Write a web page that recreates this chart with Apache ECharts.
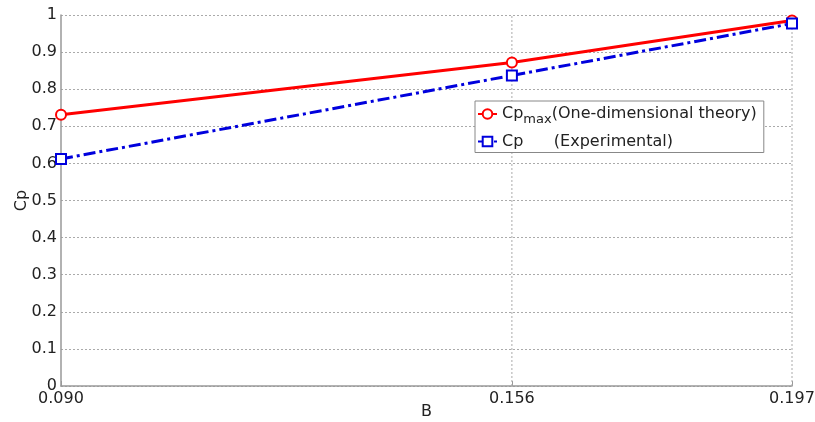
<!DOCTYPE html>
<html><head><meta charset="utf-8">
<script src="https://cdn.jsdelivr.net/npm/echarts@6/dist/echarts.min.js"></script>
<style>html,body{margin:0;padding:0;background:#fff}#c{width:815px;height:422px}</style>
</head><body><div id="c"></div>
<script>
const bValues = [0.090, 0.156, 0.197];
const xTickLabels = ['0.090', '0.156', '0.197'];
const cpMax = [0.731, 0.872, 0.985];
const cpExp = [0.612, 0.837, 0.977];
const xGridLines = [0.156, 0.197];

const font = 'DejaVu Sans, Verdana, sans-serif';
const gridData = [];
xGridLines.forEach(x => { gridData.push([x, 0], [x, 1], '-'); });

const chart = echarts.init(document.getElementById('c'));
chart.setOption({
  animation: false,
  backgroundColor: '#fff',
  grid: {left: 61, right: 23, top: 15, bottom: 36, containLabel: false, outerBoundsMode: 'none'},
  xAxis: {
    type: 'value', min: 0.09, max: 0.197,
    name: 'B', nameLocation: 'middle', nameGap: 18, nameMoveOverlap: false,
    nameTextStyle: {fontFamily: font, fontSize: 16, color: '#222'},
    axisLine: {show: true, lineStyle: {color: '#999', width: 1.5}},
    axisTick: {show: true, customValues: bValues, length: 5, inside: true, lineStyle: {color: '#999'}},
    axisLabel: {customValues: bValues, fontFamily: font, fontSize: 16, color: '#222', margin: 5,
      formatter: v => xTickLabels[bValues.findIndex(b => Math.abs(b - v) < 1e-6)] ?? ''},
    splitLine: {show: false}
  },
  yAxis: {
    type: 'value', min: 0, max: 1, interval: 0.1,
    name: 'Cp', nameLocation: 'middle', nameGap: 31, nameMoveOverlap: false,
    nameTextStyle: {fontFamily: font, fontSize: 16, color: '#222'},
    axisLine: {show: true, lineStyle: {color: '#999', width: 1.5}},
    axisTick: {show: false},
    axisLabel: {fontFamily: font, fontSize: 16, color: '#222', margin: 4,
      formatter: v => (Math.round(v * 10) / 10).toString()},
    splitLine: {show: true, lineStyle: {color: '#aaa', type: [2, 2], width: 1}}
  },
  legend: {
    orient: 'vertical', left: 475, top: 101,
    backgroundColor: '#fff', borderColor: '#888', borderWidth: 1, borderRadius: 0,
    padding: [5, 7, 3, 2], itemGap: 7, itemWidth: 19, itemHeight: 12,
    textStyle: {fontFamily: font, fontSize: 16, color: '#222',
      rich: {
        a: {fontFamily: font, fontSize: 16, color: '#222'},
        sub: {fontFamily: font, fontSize: 13, color: '#222', padding: [12, 0, 0, 0]}
      }},
    formatter: name => name === 'max'
      ? '{a|Cp}{sub|max}{a|(One-dimensional theory)}'
      : '{a|Cp      (Experimental)}',
    data: ['max', 'exp']
  },
  series: [
    {
      name: 'grid', type: 'line', data: gridData, symbol: 'none', silent: true,
      connectNulls: false,
      lineStyle: {color: '#aaa', type: [2, 2], width: 1}, z: 1
    },
    {
      name: 'max', type: 'line',
      data: bValues.map((b, i) => [b, cpMax[i]]),
      symbol: 'emptyCircle', symbolSize: 10,
      itemStyle: {color: '#ff0000', borderWidth: 2.5},
      lineStyle: {color: '#ff0000', width: 3},
      z: 3
    },
    {
      name: 'exp', type: 'line',
      data: bValues.map((b, i) => [b, cpExp[i]]),
      symbol: 'emptyRect', symbolSize: 10,
      itemStyle: {color: '#0000dd', borderWidth: 2.5},
      lineStyle: {color: '#0000dd', width: 3, type: [12, 4, 3, 4]},
      z: 4
    }
  ]
});
</script></body></html>
